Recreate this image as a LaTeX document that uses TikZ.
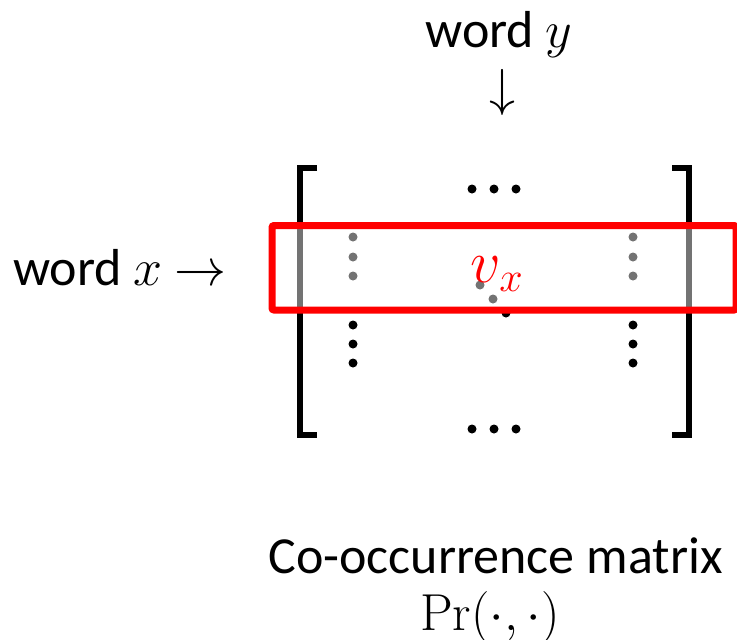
\RequirePackage{fix-cm}
\documentclass[tikz,border=0pt]{standalone}
\usepackage[no-math]{fontspec}
\setmainfont{Carlito}
\usepackage{tikz}
\usetikzlibrary{positioning}

\tikzset{
    lbl/.style={font=\fontsize{52}{60}\selectfont, inner sep=0pt},
    bracket/.style={line width=6pt},
    rowbox/.style={draw=red, line width=7pt, fill=white, fill opacity=0.45, rounded corners=2pt}
}

\begin{document}
\begin{tikzpicture}[x=1pt, y=-1pt]
    \useasboundingbox (0,0) rectangle (737,640);
    % labels
    \node[lbl, anchor=base] (wordy) at (499,47) {word $y$};
    \node[lbl] (ydown) at (502,92) {$\downarrow$};
    \node[lbl, anchor=base west] (wordx) at (13,285) {word $x$ $\rightarrow$};
    % matrix
    \draw[bracket] (317,167.5) -- (300,167.5) -- (300,434.5) -- (317,434.5);
    \draw[bracket] (672,167.5) -- (689,167.5) -- (689,434.5) -- (672,434.5);
    \fill (472,189) circle[radius=4.5pt] (494,189) circle[radius=4.5pt] (516,189) circle[radius=4.5pt];
    \fill (472,429) circle[radius=4.5pt] (494,429) circle[radius=4.5pt] (516,429) circle[radius=4.5pt];
    \fill (353,237) circle[radius=4.5pt] (353,257) circle[radius=4.5pt] (353,276) circle[radius=4.5pt];
    \fill (353,325) circle[radius=4.5pt] (353,344) circle[radius=4.5pt] (353,363) circle[radius=4.5pt];
    \fill (633,237) circle[radius=4.5pt] (633,257) circle[radius=4.5pt] (633,276) circle[radius=4.5pt];
    \fill (633,325) circle[radius=4.5pt] (633,344) circle[radius=4.5pt] (633,363) circle[radius=4.5pt];
    \fill (480,285) circle[radius=4.5pt] (493,299) circle[radius=4.5pt] (506,313) circle[radius=4.5pt];
    % row of word x
    \draw[rowbox] (272,225.5) rectangle (736,310);
    \node[lbl, text=red, font=\fontsize{60}{66}\selectfont] (vx) at (497,274) {$v_x$};
    % caption
    \node[lbl, anchor=base] (matlabel) at (495.5,573) {Co-occurrence matrix};
    \node[lbl, anchor=base] (prlabel) at (490,630) {$\Pr(\cdot,\cdot)$};
\end{tikzpicture}
\end{document}
